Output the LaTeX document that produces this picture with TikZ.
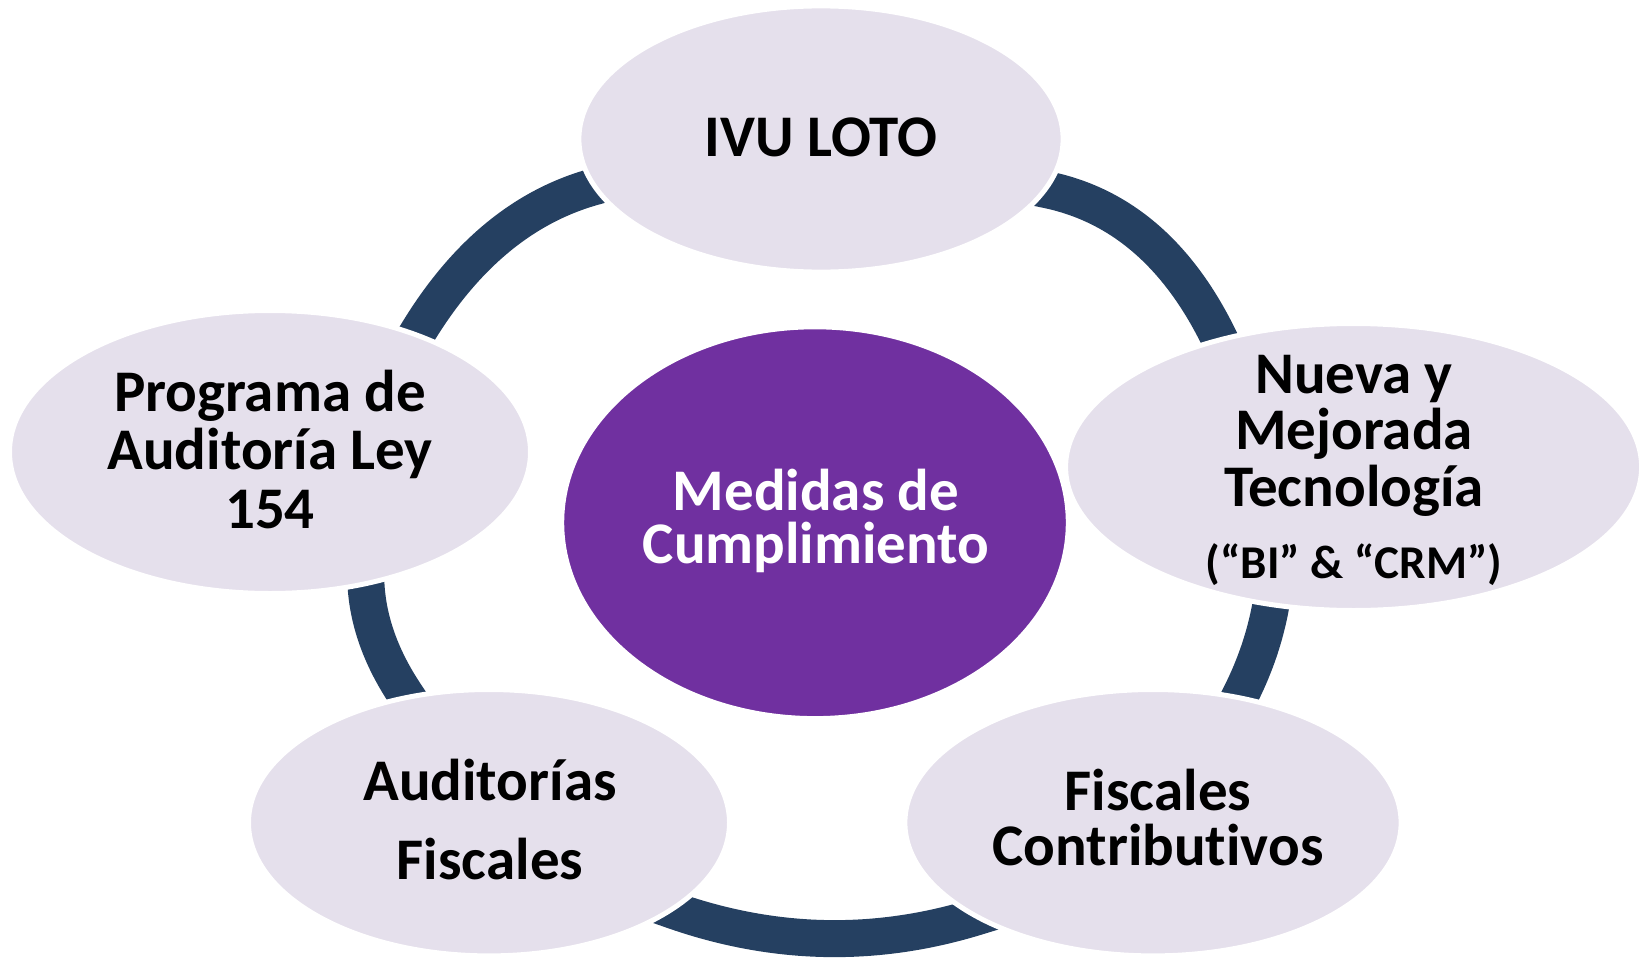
\documentclass[tikz,border=0pt]{standalone}
\usepackage{fontspec}
\setmainfont{Carlito}[Ligatures=NoCommon]
\usetikzlibrary{shapes.geometric,calc}
\definecolor{lav}{HTML}{E5E0EC}
\definecolor{purp}{HTML}{7030A0}
\definecolor{ringc}{HTML}{254061}
\begin{document}
\begin{tikzpicture}[x=1pt,y=-1pt,
  seg/.style={draw=ringc, line width=37pt, line cap=butt},
  bub/.style={ellipse, fill=lav, draw=white, line width=5pt, inner sep=0pt, outer sep=0pt},
  hub/.style={ellipse, fill=purp, draw=white, line width=5pt, inner sep=0pt, outer sep=0pt},
  lbl/.style={font=\bfseries\fontsize{59}{55}\selectfont, inner sep=0pt, anchor=base, text=black},
  hlbl/.style={lbl, text=white},
  slbl/.style={font=\bfseries\fontsize{47}{50}\selectfont, inner sep=0pt, anchor=base, text=black}]
\useasboundingbox (0,0) rectangle (1639,958);
% ring segments
\coordinate (ulA) at (418,332);   \coordinate (ulQ) at (488.5,216.5); \coordinate (ulB) at (593,187);
\coordinate (urA) at (1046,189.5); \coordinate (urQ) at (1157.5,212.25); \coordinate (urB) at (1219,338);
\coordinate (lfA) at (366,585);   \coordinate (lfQ) at (369.25,640.25); \coordinate (lfB) at (405.5,694.5);
\coordinate (rtA) at (1270.5,607); \coordinate (rtQ) at (1262.25,651.5); \coordinate (rtB) at (1241,694);
\coordinate (btA) at (672,910);   \coordinate (btQ) at (824,963.5);    \coordinate (btB) at (976,917);
\foreach \s in {ul,ur,lf,rt,bt}{
  \draw[seg] ($(\s A)!-25pt!(\s Q)$) -- (\s A)
    .. controls ($(\s A)!0.6667!(\s Q)$) and ($(\s B)!0.6667!(\s Q)$) .. (\s B)
    -- ($(\s B)!-25pt!(\s Q)$);
}
% bubbles
\node[bub, minimum width=484.2pt, minimum height=266.2pt] (top) at (821,139) {};
\node[bub, minimum width=576pt, minimum height=287pt] (rgt) at (1353.6,467) {};
\node[bub, minimum width=496.2pt, minimum height=266.4pt] (brt) at (1153,822.7) {};
\node[bub, minimum width=481pt, minimum height=266.4pt] (blt) at (489,822.7) {};
\node[bub, minimum width=521pt, minimum height=283pt] (lft) at (270,452) {};
\node[hub, minimum width=506.6pt, minimum height=391.8pt] (hub) at (815,522.7) {};
% texts
\node[lbl] (t1) at (821,156) {IVU LOTO};
\node[hlbl] (h1) at (816,510) {Medidas de};
\node[hlbl] (h2) at (816,563.3) {Cumplimiento};
\node[lbl] (r1) at (1354,393) {Nueva y};
\node[lbl] (r2) at (1354,449.5) {Mejorada};
\node[lbl] (r3) at (1354,506) {Tecnología};
\node[slbl] (r4) at (1354,578) {(“BI” \& “CRM”)};
\node[lbl] (b1) at (1158,810) {Fiscales};
\node[lbl] (b2) at (1158,865) {Contributivos};
\node[lbl] (c1) at (490,800) {Auditorías};
\node[lbl] (c2) at (490,879) {Fiscales};
\node[lbl] (l1) at (270,411) {Programa de};
\node[lbl] (l2) at (270,469) {Auditoría Ley};
\node[lbl] (l3) at (270,528) {154};
\end{tikzpicture}
\end{document}
